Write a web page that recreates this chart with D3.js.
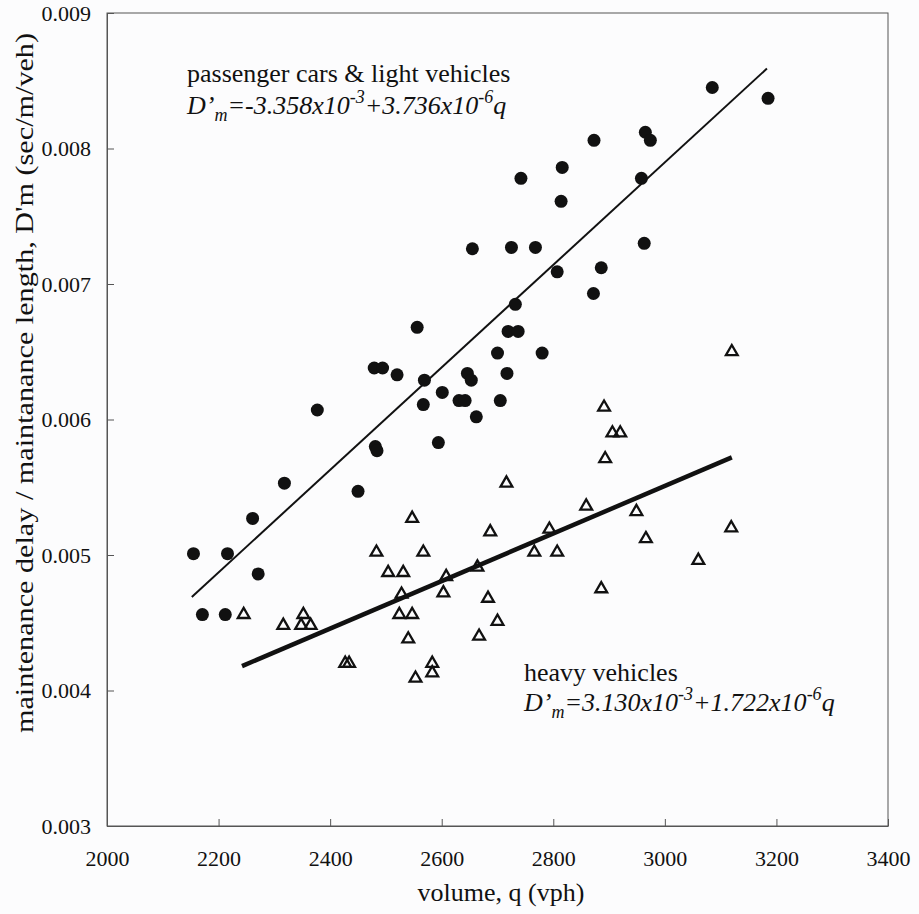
<!DOCTYPE html>
<html>
<head>
<meta charset="utf-8">
<script src="https://cdn.jsdelivr.net/npm/d3@7"></script>
<style>
  body { margin: 0; background: #fcfcfd; }
  #chart { width: 919px; height: 914px; }
  svg text { font-family: "Liberation Serif", "DejaVu Serif", serif; fill: #111; }
</style>
</head>
<body>
<div id="chart"></div>
<script>
// passenger cars & light vehicles (filled circles)
var carQ = [2155, 2216, 2171, 2212, 2261, 2271, 2318, 2377, 2450, 2481, 2484, 2479, 2494, 2520,
  2556, 2569, 2567, 2594, 2601, 2646, 2653, 2631, 2642, 2662, 2700, 2717, 2705, 2719, 2737,
  2780, 2732, 2655, 2725, 2768, 2807, 2886, 2872, 2742, 2816, 2814, 2873, 2963, 2958, 2965,
  2974, 3085, 3185];
var carD = [0.00501, 0.00501, 0.00456, 0.00456, 0.00527, 0.00486, 0.00553, 0.00607, 0.00547,
  0.00580, 0.00577, 0.00638, 0.00638, 0.00633, 0.00668, 0.00629, 0.00611, 0.00583, 0.00620,
  0.00634, 0.00629, 0.00614, 0.00614, 0.00602, 0.00649, 0.00634, 0.00614, 0.00665, 0.00665,
  0.00649, 0.00685, 0.00726, 0.00727, 0.00727, 0.00709, 0.00712, 0.00693, 0.00778, 0.00786,
  0.00761, 0.00806, 0.00730, 0.00778, 0.00812, 0.00806, 0.00845, 0.00837];

// heavy vehicles (open triangles)
var heavyQ = [2245, 2316, 2352, 2348, 2365, 2427, 2434, 2483, 2547, 2567, 2504, 2531, 2528,
  2524, 2547, 2540, 2553, 2583, 2583, 2608, 2603, 2664, 2683, 2700, 2667, 2687, 2716, 2859,
  2949, 2793, 2766, 2807, 2966, 2886, 3060, 3119, 3120, 2891, 2906, 2920, 2893];
var heavyD = [0.00456, 0.00448, 0.00456, 0.00448, 0.00448, 0.00420, 0.00420, 0.00502, 0.00527,
  0.00502, 0.00487, 0.00487, 0.00471, 0.00456, 0.00456, 0.00438, 0.00409, 0.00420, 0.00413,
  0.00484, 0.00472, 0.00491, 0.00468, 0.00451, 0.00440, 0.00517, 0.00553, 0.00536, 0.00532,
  0.00519, 0.00502, 0.00502, 0.00512, 0.00475, 0.00496, 0.00520, 0.00650, 0.00609, 0.00590,
  0.00590, 0.00571];

// fitted lines, end points
var carFitQ = [2152, 3183];
var carFitD = [0.00469, 0.00859];
var heavyFitQ = [2242, 3120];
var heavyFitD = [0.00418, 0.00572];

var xTicks = [2000, 2200, 2400, 2600, 2800, 3000, 3200, 3400];
var yTicks = [0.003, 0.004, 0.005, 0.006, 0.007, 0.008, 0.009];

var serif = '"Liberation Serif", "DejaVu Serif", serif';

function zip(a, b) {
  var arr = [];
  for (var i = 0; i < a.length; i++) arr.push([a[i], b[i]]);
  return arr;
}

var width = 919, height = 914;
var plotLeft = 107, plotRight = 888, plotTop = 13, plotBottom = 826;

var x = d3.scaleLinear().domain([2000, 3400]).range([plotLeft, plotRight]);
var y = d3.scaleLinear().domain([0.003, 0.009]).range([plotBottom, plotTop]);

var svg = d3.select("#chart").append("svg")
    .attr("width", width)
    .attr("height", height)
    .attr("font-family", serif)
    .style("background", "#fcfcfd");

// plot frame
svg.append("rect")
    .attr("x", plotLeft).attr("y", plotTop)
    .attr("width", plotRight - plotLeft).attr("height", plotBottom - plotTop)
    .attr("fill", "none")
    .attr("stroke", "#555")
    .attr("stroke-width", 1);

// axes with inward ticks
var xAxis = svg.append("g")
    .attr("transform", "translate(0," + plotBottom + ")")
    .call(d3.axisBottom(x).tickValues(xTicks).tickFormat(d3.format("d"))
      .tickSizeInner(-7).tickSizeOuter(0).tickPadding(24));
var yAxis = svg.append("g")
    .attr("transform", "translate(" + plotLeft + ",0)")
    .call(d3.axisLeft(y).tickValues(yTicks).tickFormat(d3.format(".3f"))
      .tickSizeInner(-7).tickSizeOuter(0).tickPadding(16));

[xAxis, yAxis].forEach(function(g) {
  g.attr("font-family", serif).attr("font-size", 22);
  g.select(".domain").attr("stroke", "#555");
  g.selectAll(".tick line").attr("stroke", "#555");
  g.selectAll(".tick text")
    .style("font-family", serif)
    .style("font-size", "22px")
    .attr("fill", "#111");
});

// axis titles
svg.append("text")
    .attr("x", 501)
    .attr("y", 901)
    .attr("text-anchor", "middle")
    .style("font-size", "26px")
    .text("volume, q (vph)");

svg.append("text")
    .attr("text-anchor", "middle")
    .attr("transform", "translate(33,383)rotate(-90)")
    .attr("textLength", 700)
    .attr("lengthAdjust", "spacingAndGlyphs")
    .style("font-size", "25px")
    .text("maintenance delay / maintanance length, D'm (sec/m/veh)");

// fitted lines
var line = d3.line().x(function(d) { return x(d[0]); }).y(function(d) { return y(d[1]); });

svg.append("path")
    .datum(zip(carFitQ, carFitD))
    .attr("d", line)
    .attr("fill", "none")
    .attr("stroke", "#111")
    .attr("stroke-width", 2);

svg.append("path")
    .datum(zip(heavyFitQ, heavyFitD))
    .attr("d", line)
    .attr("fill", "none")
    .attr("stroke", "#111")
    .attr("stroke-width", 4.5);

// data points
svg.selectAll("circle.car")
    .data(zip(carQ, carD))
    .enter().append("circle")
      .attr("class", "car")
      .attr("cx", function(d) { return x(d[0]); })
      .attr("cy", function(d) { return y(d[1]); })
      .attr("r", 6.5)
      .attr("fill", "#111");

svg.selectAll("path.heavy")
    .data(zip(heavyQ, heavyD))
    .enter().append("path")
      .attr("class", "heavy")
      .attr("d", d3.symbol().type(d3.symbolTriangle).size(60))
      .attr("transform", function(d) { return "translate(" + x(d[0]) + "," + y(d[1]) + ")"; })
      .attr("fill", "none")
      .attr("stroke", "#111")
      .attr("stroke-width", 2.3);

// labels with equations
function equation(xp, yp, parts) {
  var t = svg.append("text")
      .attr("x", xp).attr("y", yp)
      .style("font-size", "26px")
      .style("font-style", "italic");
  parts.forEach(function(p) {
    var s = t.append("tspan").text(p[0]);
    if (p[1] == "sub") s.attr("dy", 7).style("font-size", "18px");
    else if (p[1] == "sup") s.attr("dy", -11).style("font-size", "18px");
    else if (p[1] == "back") s.attr("dy", 11);
    else if (p[1] == "up") s.attr("dy", -7);
  });
}

svg.append("text")
    .attr("x", 187).attr("y", 82)
    .style("font-size", "26px")
    .text("passenger cars & light vehicles");
equation(187, 114, [["D\u2019", ""], ["m", "sub"], ["=-3.358x10", "up"], ["-3", "sup"],
  ["+3.736x10", "back"], ["-6", "sup"], ["q", "back"]]);

svg.append("text")
    .attr("x", 524).attr("y", 681)
    .style("font-size", "26px")
    .text("heavy vehicles");
equation(524, 711, [["D\u2019", ""], ["m", "sub"], ["=3.130x10", "up"], ["-3", "sup"],
  ["+1.722x10", "back"], ["-6", "sup"], ["q", "back"]]);
</script>
</body>
</html>
